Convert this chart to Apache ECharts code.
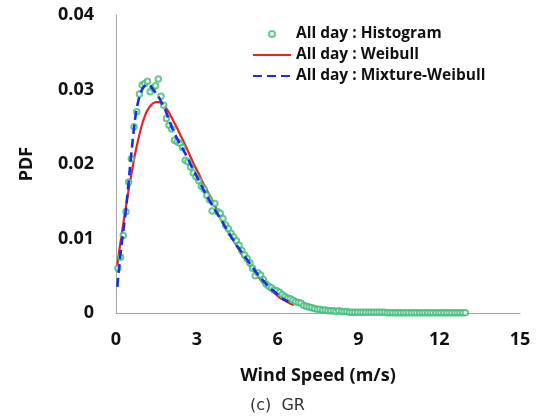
<!DOCTYPE html>
<html>
<head>
<meta charset="utf-8">
<script src="https://cdn.jsdelivr.net/npm/echarts@6/dist/echarts.min.js"></script>
<style>
html,body{margin:0;padding:0;background:#fff;}
#chart{width:537px;height:420px;}
</style>
</head>
<body>
<div id="chart"></div>
<script>
// Histogram: bin centres start and width (m/s)
var histStart = 0.07;
var histStep = 0.1;
var histValues = [
  0.0060,0.0075,0.0104,0.0136,0.0176,0.0207,0.0250,0.0270,0.0294,0.0306,
  0.0308,0.0311,0.0297,0.0302,0.0305,0.0314,0.0291,0.0279,0.0261,0.0252,
  0.0247,0.0232,0.0230,0.0228,0.0222,0.0205,0.0203,0.0196,0.0188,0.0183,
  0.0178,0.0170,0.0166,0.0158,0.0152,0.0137,0.0147,0.0136,0.0134,0.0127,
  0.0118,0.0113,0.0107,0.0102,0.0097,0.0091,0.0084,0.0078,0.0073,0.0067,
  0.0060,0.0050,0.0054,0.0051,0.0045,0.0039,0.0036,0.0034,0.0031,0.0030,
  0.0028,0.0025,0.0022,0.0020,0.0019,0.0017,0.0015,0.0014,0.0013,0.0010,
  0.0009,0.0008,0.0007,0.0006,0.0005,0.0005,0.0004,0.0004,0.0003,0.0003,
  0.0003,0.0002,0.0003,0.0002,0.0002,0.0002,0.0001,0.0001,0.0001,0.0001,
  0.0001,0.0001,0.0001,0.0001,0.0001,0.0001,0.0001,0.0001,0.0001,0.0001,
  0.00005,0.00005,0.00005,0.00005,0.00005,0.00005,0.00005,0.00005,0.00005,0.00005,
  0.00005,0.00005,0.00005,0.00005,0.00005,0.00005,0.00005,0.00005,0.00005,0.00005,
  0.00005,0.00005,0.00005,0.00005,0.00005,0.00005,0.00005,0.00005,0.00005,0.00005
];

// Weibull fit (red)
var weibullX = [0.05,0.1,0.2,0.3,0.4,0.5,0.6,0.7,0.8,0.9,1.0,1.1,1.2,1.3,1.4,1.5,1.6,1.7,1.8,1.9,2.0,2.1,2.2,2.3,2.4,2.5,2.6,2.7,2.8,2.9,3.0,3.1,3.2,3.3,3.4,3.5,3.6,3.7,3.8,3.9,4.0,4.1,4.2,4.3,4.4,4.5,4.6,4.7,4.8,4.9,5.0,5.1,5.2,5.3,5.4,5.5,5.6,5.7,5.8,5.9,6.0,6.1,6.2,6.3,6.4,6.5,6.6];
var weibullY = [0.0064,0.0078,0.0103,0.0127,0.0150,0.0172,0.0192,0.0212,0.0229,0.0244,0.0257,0.0267,0.0274,0.0279,0.0282,0.0283,0.0283,0.0281,0.0278,0.0273,0.0267,0.0260,0.0253,0.0246,0.0238,0.0231,0.0223,0.0215,0.0207,0.0199,0.0192,0.0185,0.0177,0.0170,0.0163,0.0156,0.0149,0.0142,0.0135,0.0128,0.0121,0.0115,0.0108,0.0101,0.0095,0.0089,0.0083,0.0077,0.0072,0.0067,0.0062,0.0057,0.0052,0.0048,0.0043,0.0039,0.0036,0.0032,0.0029,0.0026,0.0023,0.0020,0.0018,0.0016,0.0014,0.0012,0.0011];

// Mixture-Weibull fit (blue dashed)
var mixX = [0.05,0.1,0.2,0.3,0.4,0.5,0.6,0.7,0.8,0.9,1.0,1.1,1.2,1.3,1.4,1.5,1.6,1.7,1.8,1.9,2.0,2.1,2.2,2.3,2.4,2.5,2.6,2.7,2.8,2.9,3.0,3.1,3.2,3.3,3.4,3.5,3.6,3.7,3.8,3.9,4.0,4.1,4.2,4.3,4.4,4.5,4.6,4.7,4.8,4.9,5.0,5.1,5.2,5.3,5.4,5.5,5.6,5.7,5.8,5.9,6.0,6.1,6.2,6.3,6.4];
var mixY = [0.0035,0.0055,0.0090,0.0118,0.0150,0.0188,0.0225,0.0258,0.0280,0.0294,0.0302,0.0306,0.0307,0.0304,0.0299,0.0294,0.0289,0.0282,0.0275,0.0266,0.0256,0.0247,0.0239,0.0232,0.0225,0.0219,0.0212,0.0205,0.0197,0.0190,0.0183,0.0176,0.0169,0.0162,0.0156,0.0149,0.0143,0.0137,0.0131,0.0125,0.0119,0.0113,0.0107,0.0101,0.0096,0.0090,0.0085,0.0080,0.0075,0.0070,0.0065,0.0060,0.0055,0.0050,0.0046,0.0042,0.0038,0.0034,0.0031,0.0028,0.0025,0.0022,0.0019,0.0017,0.0015];

var seriesNames = ['All day : Histogram','All day : Weibull','All day : Mixture-Weibull'];
var xTicks = {min:0, max:15, interval:3};
var yTicks = {min:0, max:0.04, interval:0.01};

function zip(xs, ys){ var out=[]; for(var i=0;i<ys.length;i++) out.push([xs[i], ys[i]]); return out; }
var histData = [];
for (var i=0;i<histValues.length;i++) histData.push([+(histStart + i*histStep).toFixed(2), histValues[i]]);

var FONT = 'Open Sans';
var chart = echarts.init(document.getElementById('chart'), null, {renderer:'canvas'});
chart.setOption({
  animation:false,
  backgroundColor:'#ffffff',
  title:{
    text:'(c)  GR', left:245, top:393,
    textStyle:{fontFamily:'DejaVu Sans', fontWeight:'normal', fontSize:16, color:'#333'}
  },
  grid:{left:116, right:17, top:15, bottom:107, containLabel:false},
  legend:{
    orient:'vertical', left:247, top:21, itemWidth:38, itemHeight:6, itemGap:5,
    symbolKeepAspect:true,
    textStyle:{fontFamily:FONT, fontWeight:'bold', fontSize:15.5, color:'#111'},
    data:[
      {name:seriesNames[0]},
      {name:seriesNames[1], itemStyle:{opacity:0}},
      {name:seriesNames[2], itemStyle:{opacity:0}}
    ]
  },
  xAxis:{
    type:'value', min:xTicks.min, max:xTicks.max, interval:xTicks.interval,
    name:'Wind Speed (m/s)', nameLocation:'middle', nameGap:54,
    nameTextStyle:{fontFamily:FONT, fontWeight:'bold', fontSize:18, color:'#111'},
    axisLine:{show:true, onZero:false, lineStyle:{color:'#a6a6a6', width:1}},
    axisTick:{show:false}, splitLine:{show:false},
    axisLabel:{margin:18, fontFamily:FONT, fontWeight:'bold', fontSize:18, color:'#111'}
  },
  yAxis:{
    type:'value', min:yTicks.min, max:yTicks.max, interval:yTicks.interval,
    name:'PDF', nameLocation:'middle', nameGap:80, nameRotate:90,
    nameTextStyle:{fontFamily:FONT, fontWeight:'bold', fontSize:18, color:'#111'},
    axisLine:{show:true, lineStyle:{color:'#a6a6a6', width:1}},
    axisTick:{show:false}, splitLine:{show:false},
    axisLabel:{margin:22, fontFamily:FONT, fontWeight:'bold', fontSize:18, color:'#111',
      formatter:function(v){ return v===0 ? '0' : v.toFixed(2); }}
  },
  series:[
    {
      name:seriesNames[0], type:'scatter', data:histData,
      symbol:'emptyCircle', symbolSize:5.5, z:3,
      itemStyle:{color:'#3dbb78', borderColor:'#3dbb78', borderWidth:1.2}
    },
    {
      name:seriesNames[1], type:'line', data:zip(weibullX, weibullY),
      smooth:0.3, showSymbol:false, symbol:'none', z:2,
      lineStyle:{color:'#e8231f', width:2.2}, itemStyle:{color:'#e8231f'}
    },
    {
      name:seriesNames[2], type:'line', data:zip(mixX, mixY),
      smooth:0.3, showSymbol:false, symbol:'none', z:4,
      lineStyle:{color:'#1a2ee6', width:2.6, type:[9,5]}, itemStyle:{color:'#1a2ee6'}
    }
  ]
});
</script>
</body>
</html>
